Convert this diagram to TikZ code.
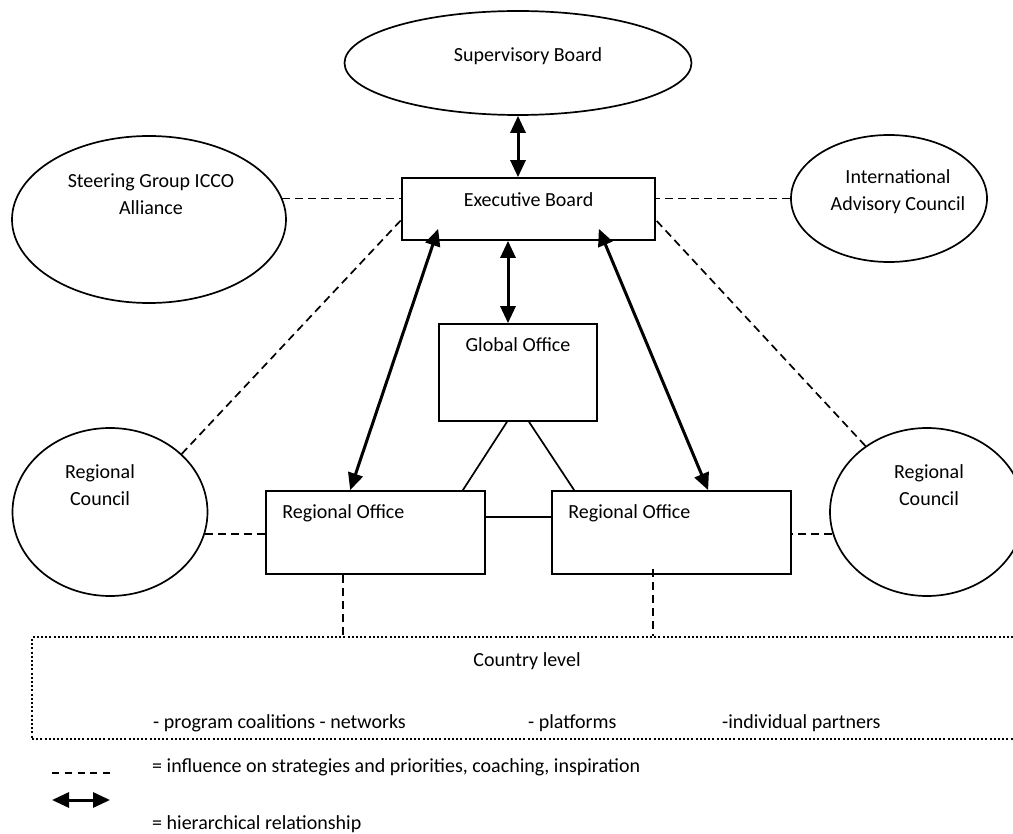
\documentclass[tikz,border=0pt]{standalone}
\usepackage{fontspec}
\setmainfont{Carlito}
\usetikzlibrary{shapes.geometric, arrows.meta, positioning}
\tikzstyle{board} = [ellipse, draw=black, line width=1.7pt, inner sep=0pt]
\tikzstyle{office} = [rectangle, draw=black, line width=1.7pt, inner sep=0pt]
\tikzstyle{level} = [rectangle, draw=black, line width=2.4pt, dash pattern=on 2pt off 2.2pt, inner sep=0pt]
\tikzstyle{txt} = [align=center, inner sep=0pt, font=\fontsize{20}{27}\selectfont]
\tikzstyle{hier} = [line width=3pt, {Triangle[length=17pt,width=15pt]}-{Triangle[length=17pt,width=15pt]}]
\tikzstyle{infl} = [line width=1.7pt, dash pattern=on 8pt off 5pt]
\tikzstyle{link} = [line width=1.7pt]

\begin{document}
\begin{tikzpicture}[x=1pt, y=-1pt]
\useasboundingbox (0,0) rectangle (1013,834);

% Boards and councils
\node (sup) [board, minimum width=347pt, minimum height=104pt] at (518,63) {};
\node [txt] at (528,56) {Supervisory Board};
\node (steer) [board, minimum width=274pt, minimum height=167pt] at (149,219.5) {};
\node [txt] at (151,194) {Steering Group ICCO\\Alliance};
\node (iac) [board, minimum width=196pt, minimum height=127pt] at (889,198.5) {};
\node [txt] at (898,192) {International\\Advisory Council};
\node (rcl) [board, minimum width=195pt, minimum height=168pt] at (110,512) {};
\node [txt] at (100,485) {Regional\\Council};
\node (rcr) [board, minimum width=194pt, minimum height=168pt] at (927,512) {};
\node [txt] at (929,485) {Regional\\Council};

% Offices
\node (exec) [office, minimum width=253pt, minimum height=62pt] at (528.5,209) {};
\node [txt, below=15pt of exec.north] {Executive Board};
\node (glob) [office, minimum width=158pt, minimum height=97pt] at (518,372.5) {};
\node [txt, below=14pt of glob.north] {Global Office};
\node (rol) [office, minimum width=219pt, minimum height=83pt] at (375.5,532.5) {};
\node [txt, below right=14pt and 17pt of rol.north west] {Regional Office};
\node (ror) [office, minimum width=239pt, minimum height=83pt] at (671.5,532.5) {};
\node [txt, below right=14pt and 17pt of ror.north west] {Regional Office};

% Country level
\node (country) [level, minimum width=990pt, minimum height=101.5pt] at (527,688) {};
\node [txt, below=16pt of country.north] {Country level};
\node [txt, anchor=west] at (153,723) {- program coalitions - networks};
\node [txt, anchor=west] at (528,723) {- platforms};
\node [txt, anchor=west] at (722,723) {-individual partners};

% Hierarchical relationships
\draw [hier] (sup.south) -- (sup.south |- exec.north);
\draw [hier] ([xshift=-10pt]glob.north |- exec.south) -- ([xshift=-10pt]glob.north);
\draw [hier] ([xshift=37pt, yshift=12pt]exec.south west) -- ([xshift=85pt]rol.north west);
\draw [hier] ([xshift=-57pt, yshift=12pt]exec.south east) -- ([xshift=157pt]ror.north west);

% Plain links
\draw [link] ([xshift=-11pt]glob.south) -- ([xshift=-23pt]rol.north east);
\draw [link] ([xshift=11pt]glob.south) -- ([xshift=23pt]ror.north west);
\draw [link] ([yshift=15.5pt]rol.east) -- ([yshift=15.5pt]ror.west);

% Influence
\draw [infl] (steer.9) -- (steer.9 -| exec.west);
\draw [infl] (iac.west) -- (iac.west -| exec.east);
\draw [infl] (rcl.39) -- ([yshift=-11pt]exec.west);
\draw [infl] (rcr.133) -- ([yshift=-11pt]exec.east);
\draw [infl] (rcl.-13) -- (rcl.-13 -| rol.west);
\draw [infl] (rcr.193) -- (rcr.193 -| ror.east);
\draw [infl] ([xshift=-32.5pt]rol.south) -- ([xshift=-32.5pt]rol.south |- country.north);
\draw [infl] ([xshift=-18.5pt, yshift=6pt]ror.south) -- ([xshift=-18.5pt]ror.south |- country.north);

% Legend
\coordinate (dashA) at (52,773);
\coordinate (dashB) at (110,773);
\coordinate (arrA) at (52,800);
\coordinate (arrB) at (110,800);
\draw [line width=1.7pt, dash pattern=on 7pt off 5.75pt] (dashA) -- (dashB);
\draw [hier] (arrA) -- (arrB);
\node [txt, anchor=west] at (152,767) {= influence on strategies and priorities, coaching, inspiration};
\node [txt, anchor=west] at (152,824) {= hierarchical relationship};

\end{tikzpicture}
\end{document}
